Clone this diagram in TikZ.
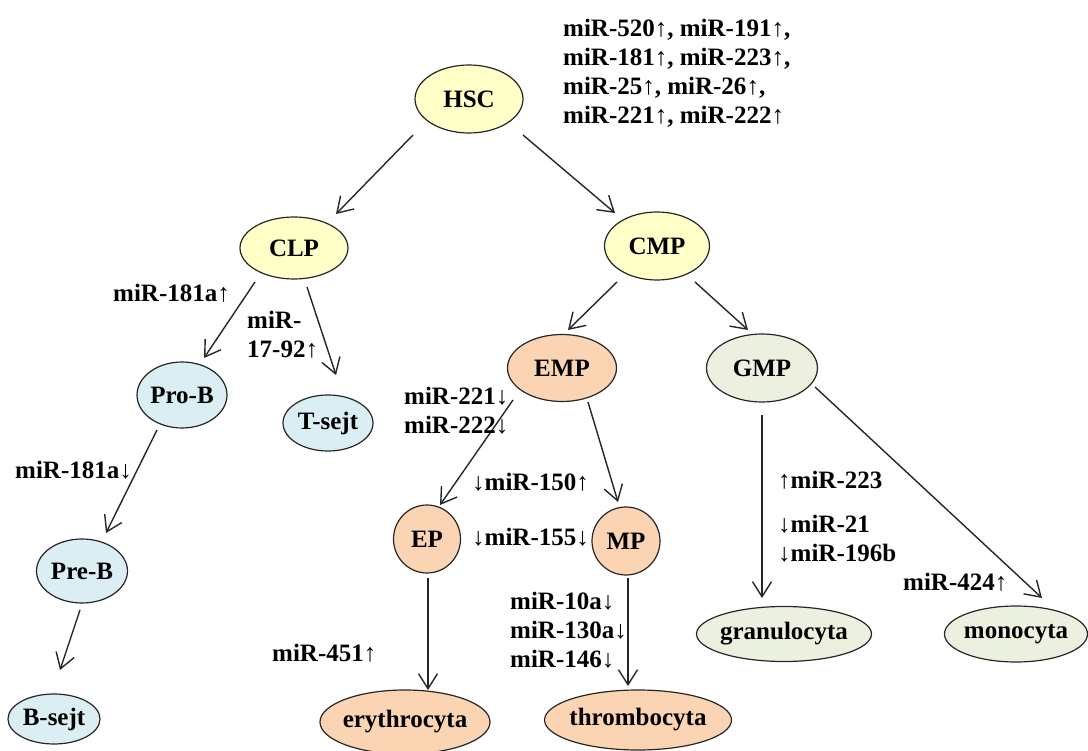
\documentclass[tikz,border=0pt]{standalone}
\usepackage{fontspec}
\setmainfont{Liberation Serif}
\usetikzlibrary{arrows.meta,shapes.geometric,calc}

\definecolor{stemyellow}{HTML}{FFFFC8}
\definecolor{lymphblue}{HTML}{DAEEF3}
\definecolor{eryorange}{HTML}{FBD4B4}
\definecolor{myelgreen}{HTML}{EBF1DE}

\newcommand{\uarr}{{\mdseries ↑}}
\newcommand{\darr}{{\mdseries ↓}}

\begin{document}
\begin{tikzpicture}[x=1pt,y=-1pt,
        every node/.style={font=\bfseries\fontsize{25}{29}\selectfont},
        cell/.style={ellipse,draw=black!85,line width=1.2pt,inner xsep=-3pt,inner ysep=0pt,outer sep=0pt},
        stem/.style={cell,fill=stemyellow},
        lymph/.style={cell,fill=lymphblue},
        ery/.style={cell,fill=eryorange},
        myel/.style={cell,fill=myelgreen},
        mir/.style={anchor=west,align=left,inner sep=0pt},
        edge/.style={draw=black!85,line width=1.4pt,-{Straight Barb[length=15pt,width=19pt]}}]
        \useasboundingbox (0,0) rectangle (1088,751);
        % cells
        \node[stem,minimum width=108pt,minimum height=68pt] (HSC) at (469,99) {HSC};
        \node[stem,minimum width=108pt,minimum height=62pt] (CLP) at (294,248) {CLP};
        \node[stem,minimum width=105pt,minimum height=68pt] (CMP) at (657,246) {CMP};
        \node[lymph,minimum width=90pt,minimum height=66pt] (ProB) at (182,395) {Pro-B};
        \node[lymph,minimum width=90pt,minimum height=56pt] (Tsejt) at (328,423) {T-sejt};
        \node[lymph,minimum width=91pt,minimum height=64pt] (PreB) at (82,571) {Pre-B};
        \node[lymph,minimum width=92pt,minimum height=50pt] (Bsejt) at (54,719) {B-sejt};
        \node[ery,minimum width=109pt,minimum height=67pt] (EMP) at (562,368) {EMP};
        \node[myel,minimum width=111pt,minimum height=68pt] (GMP) at (762,368) {GMP};
        \node[ery,minimum width=67pt,minimum height=68pt] (EP) at (427,539) {EP};
        \node[ery,minimum width=68pt,minimum height=68pt] (MP) at (626,541) {MP};
        \node[ery,minimum width=170pt,minimum height=64pt] (Ery) at (405,722) {erythrocyta};
        \node[ery,minimum width=187pt,minimum height=60pt] (Thromb) at (638,720) {thrombocyta};
        \node[myel,minimum width=175pt,minimum height=55pt] (Gran) at (784,634) {granulocyta};
        \node[myel,minimum width=143pt,minimum height=56pt] (Mono) at (1016,634) {monocyta};
        % lineage arrows
        \draw[edge] ($(HSC)+(-56,36)$) -- ($(CLP)+(42,-34)$);
        \draw[edge] ($(HSC)+(54,36)$) -- ($(CMP)+(-42,-33)$);
        \draw[edge] ($(CLP)+(-39,34)$) -- ($(ProB)+(22,-37)$);
        \draw[edge] ($(CLP)+(13,39)$) -- ($(Tsejt)+(8,-48)$);
        \draw[edge] ($(CMP)+(-40,36)$) -- ($(EMP)+(6,-38)$);
        \draw[edge] ($(CMP)+(38,36)$) -- ($(GMP)+(-14,-38)$);
        \draw[edge] ($(ProB)+(-25,35)$) -- ($(PreB)+(24,-38)$);
        \draw[edge] ($(PreB)+(-2,39)$) -- ($(Bsejt)+(6,-49)$);
        \draw[edge] ($(EMP)+(-49,32)$) -- ($(EP)+(13,-34)$);
        \draw[edge] ($(EMP)+(26,34)$) -- ($(MP)+(-8,-39)$);
        \draw[edge] ($(EP)+(1,39)$) -- ($(Ery)+(23,-32)$);
        \draw[edge] ($(MP)+(2,37)$) -- ($(Thromb)+(-10,-34)$);
        \draw[edge] ($(GMP)+(0,47)$) -- ($(Gran)+(-22,-36)$);
        \draw[edge] ($(GMP)+(53,19)$) -- ($(Mono)+(26,-36)$);
        % miRNA labels
        \node[mir] (mirHSC) at (563,73) {miR-520\uarr, miR-191\uarr,\\miR-181\uarr, miR-223\uarr,\\miR-25\uarr, miR-26\uarr,\\miR-221\uarr, miR-222\uarr};
        \node[mir] (mirProB) at (113,293) {miR-181a\uarr};
        \node[mir] (mirT) at (247,335) {miR-\\17-92\uarr};
        \node[mir] (mirPreB) at (15,470) {miR-181a\darr};
        \node[mir] (mirEP) at (404,411) {miR-221\darr\\miR-222\darr};
        \node[mir] (mirA) at (472,482) {\darr miR-150\uarr};
        \node[mir] (mirB) at (472,537) {\darr miR-155\darr};
        \node[mir] (mirEry) at (272,653) {miR-451\uarr};
        \node[mir] (mirThromb) at (510,630) {miR-10a\darr\\miR-130a\darr\\miR-146\darr};
        \node[mir] (mirGranA) at (778,480) {\uarr miR-223};
        \node[mir] (mirGranB) at (778,539) {\darr miR-21\\\darr miR-196b};
        \node[mir] (mirMono) at (903,582) {miR-424\uarr};
\end{tikzpicture}
\end{document}
